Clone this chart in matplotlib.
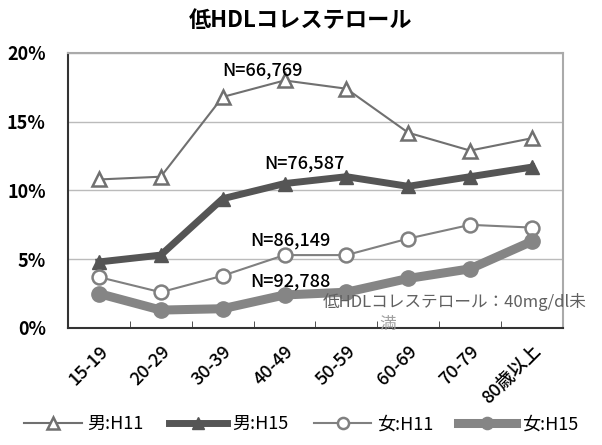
import matplotlib
matplotlib.use('Agg')
import matplotlib.pyplot as plt
import numpy as np

plt.rcParams['font.family'] = ['Noto Sans CJK JP', 'DejaVu Sans']

# データ
ages = ['15-19', '20-29', '30-39', '40-49', '50-59', '60-69', '70-79', '80歳以上']
male_h11 = [10.8, 11.0, 16.8, 18.0, 17.4, 14.2, 12.9, 13.8]
male_h15 = [4.8, 5.3, 9.4, 10.5, 11.0, 10.3, 11.0, 11.7]
female_h11 = [3.7, 2.6, 3.8, 5.3, 5.3, 6.5, 7.5, 7.3]
female_h15 = [2.5, 1.3, 1.4, 2.4, 2.6, 3.6, 4.3, 6.3]
series_labels = ['男:H11', '男:H15', '女:H11', '女:H15']
n_labels = ['N=66,769', 'N=76,587', 'N=86,149', 'N=92,788']

fig = plt.figure(figsize=(6.02, 4.45), dpi=100)
ax = fig.add_axes([0.113, 0.263, 0.822, 0.618])

x = np.arange(len(ages))
ax.plot(x, male_h11, color='#707070', lw=1.5, marker='^', ms=10, mfc='white',
        mec='#707070', mew=1.8, label=series_labels[0], zorder=3)
ax.plot(x, male_h15, color='#555555', lw=5, marker='^', ms=10, mfc='#555555',
        mec='#555555', label=series_labels[1], zorder=3)
ax.plot(x, female_h11, color='#808080', lw=1.5, marker='o', ms=10, mfc='white',
        mec='#808080', mew=1.8, label=series_labels[2], zorder=3)
ax.plot(x, female_h15, color='#858585', lw=6.5, marker='o', ms=11, mfc='#858585',
        mec='#858585', label=series_labels[3], zorder=3)

# N のラベル
ax.text(2.65, 18.1, n_labels[0], ha='center', va='bottom', fontsize=13, fontweight='medium')
ax.text(3.33, 11.3, n_labels[1], ha='center', va='bottom', fontsize=13, fontweight='medium')
ax.text(3.09, 5.7, n_labels[2], ha='center', va='bottom', fontsize=13, fontweight='medium')
ax.text(3.09, 2.7, n_labels[3], ha='center', va='bottom', fontsize=13, fontweight='medium')
ax.text(3.62, 1.9, '低HDLコレステロール：40mg/dl未', ha='left', va='center',
        fontsize=12, style='italic', color='#606060', clip_on=False)
ax.text(4.67, 0.25, '満', ha='center', va='center', fontsize=12,
        style='italic', color='#a0a0a0')

ax.set_xlim(-0.5, len(ages) - 0.5)
ax.set_ylim(0, 20)
ax.set_yticks([0, 5, 10, 15, 20])
ax.set_yticklabels(['0%', '5%', '10%', '15%', '20%'], fontsize=13, fontweight='bold')
ax.yaxis.grid(True, color='#bbbbbb', lw=1)
ax.set_axisbelow(True)
ax.tick_params(axis='y', length=0, pad=16)

ax.set_xticks(x)
ax.set_xticklabels(ages, rotation=45, ha='right', rotation_mode='anchor',
                   fontsize=13, fontweight='medium')
ax.tick_params(axis='x', length=0, pad=10)
ax.set_xticks(np.arange(len(ages) + 1) - 0.5, minor=True)
ax.tick_params(axis='x', which='minor', direction='in', length=5, color='#333333')

for s in ['left', 'bottom']:
    ax.spines[s].set_color('#333333')
    ax.spines[s].set_linewidth(1.5)
for s in ['top', 'right']:
    ax.spines[s].set_color('#aaaaaa')
    ax.spines[s].set_linewidth(1.5)

fig.suptitle('低HDLコレステロール', y=0.98, fontsize=16, fontweight='bold')

fig.legend(loc='lower center', ncol=4, frameon=False, fontsize=13,
           bbox_to_anchor=(0.5, -0.01), handlelength=3.2, columnspacing=1.4,
           handletextpad=0.3, markerscale=0.8)

plt.savefig('out.png', dpi=100)
